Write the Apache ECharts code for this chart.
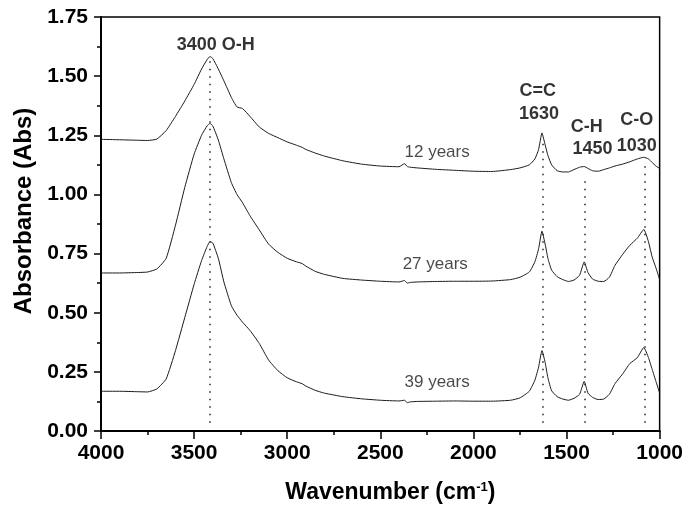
<!DOCTYPE html>
<html>
<head>
<meta charset="utf-8">
<script src="https://cdn.jsdelivr.net/npm/echarts@6/dist/echarts.min.js"></script>
<style>html,body{margin:0;padding:0;background:#fff;}#c{width:686px;height:509px;}</style>
</head>
<body>
<div id="c"></div>
<script>
const wavenumber = [4000,3900,3800,3750,3700,3650,3600,3550,3500,3460,3430,3415,3400,3370,3340,3300,3270,3240,3200,3150,3100,3050,3000,2950,2920,2900,2850,2800,2700,2600,2500,2400,2370,2355,2340,2300,2200,2100,2000,1900,1800,1750,1700,1670,1650,1632,1615,1600,1580,1550,1520,1490,1460,1430,1405,1385,1360,1330,1300,1270,1240,1200,1160,1120,1085,1060,1040,1020,1000];
const abs12 = [1.233,1.231,1.229,1.228,1.234,1.27,1.33,1.395,1.465,1.53,1.57,1.583,1.575,1.53,1.48,1.41,1.37,1.363,1.33,1.285,1.258,1.24,1.222,1.208,1.199,1.19,1.175,1.162,1.142,1.128,1.12,1.117,1.13,1.118,1.115,1.112,1.106,1.102,1.098,1.097,1.105,1.112,1.125,1.15,1.19,1.26,1.21,1.165,1.125,1.10,1.095,1.095,1.105,1.115,1.118,1.11,1.10,1.098,1.105,1.112,1.12,1.128,1.138,1.15,1.157,1.15,1.135,1.12,1.11];
const abs27 = [0.668,0.668,0.67,0.672,0.685,0.73,0.87,1.03,1.17,1.25,1.29,1.30,1.29,1.23,1.15,1.05,1.00,0.965,0.91,0.85,0.79,0.755,0.73,0.715,0.708,0.697,0.675,0.662,0.645,0.638,0.633,0.63,0.636,0.625,0.628,0.63,0.632,0.633,0.633,0.634,0.64,0.65,0.672,0.715,0.77,0.845,0.79,0.73,0.68,0.652,0.64,0.632,0.638,0.658,0.715,0.67,0.642,0.633,0.632,0.65,0.70,0.745,0.785,0.815,0.852,0.80,0.735,0.69,0.64];
const abs39 = [0.168,0.168,0.166,0.165,0.178,0.22,0.34,0.48,0.62,0.72,0.78,0.80,0.795,0.73,0.63,0.53,0.49,0.46,0.425,0.37,0.30,0.255,0.225,0.208,0.20,0.19,0.172,0.16,0.145,0.136,0.13,0.127,0.13,0.12,0.123,0.125,0.126,0.127,0.126,0.126,0.13,0.14,0.168,0.215,0.27,0.34,0.29,0.225,0.17,0.145,0.135,0.13,0.138,0.155,0.21,0.16,0.142,0.133,0.135,0.155,0.20,0.24,0.285,0.31,0.353,0.31,0.26,0.21,0.16];

const bandLabels = ['3400 O-H','C=C','1630','C-H','1450','C-O','1030'];
const bandLabelX = [3384,1654,1648,1391,1360,1123,1123];
const bandLabelY = [1.632,1.439,1.338,1.283,1.19,1.313,1.203];
const yearLabels = ['12 years','27 years','39 years'];
const yearLabelX = [2195,2205,2195];
const yearLabelY = [1.178,0.703,0.206];
const bandLineX = [3418,1629,1404,1080];
const bandLineTop = [1.57,1.24,1.08,1.127];
const bandLineBottom = 0.035;

const xTicks = [1000,1500,2000,2500,3000,3500,4000];
const yTicks = ['0.00','0.25','0.50','0.75','1.00','1.25','1.50','1.75'];

const FONT = 'Liberation Sans, Arial, sans-serif';
const chart = echarts.init(document.getElementById('c'));

function pairs(ys){ return wavenumber.map((w,i)=>[w, ys[i]]); }
const lineStyle = {color:'#1a1a1a', width:1};

const option = {
  animation:false,
  grid:{left:101,right:25,top:17,bottom:76,show:true,borderColor:'#000',borderWidth:1.5,backgroundColor:'transparent'},
  xAxis:{
    type:'value', min:1000, max:4000, interval:500, inverse:true,
    axisLine:{show:true,onZero:false,lineStyle:{color:'#000',width:2}},
    axisTick:{show:true,length:8,lineStyle:{color:'#000',width:1.5}},
    minorTick:{show:true,splitNumber:2,length:4,lineStyle:{color:'#000',width:1.5}},
    splitLine:{show:false},
    axisLabel:{color:'#000',fontFamily:FONT,fontWeight:'bold',fontSize:21,margin:12,
      formatter:v=> xTicks.indexOf(v)>=0 ? String(v) : ''},
    name:'{n|Wavenumber (cm}{s|-1}{n|)}',
    nameLocation:'middle', nameGap:50,
    nameTextStyle:{padding:[0,0,0,20],
      rich:{n:{fontFamily:FONT,fontWeight:'bold',fontSize:23,color:'#000'},
            s:{fontFamily:FONT,fontWeight:'bold',fontSize:13,color:'#000',padding:[0,0,10,0]}}}
  },
  yAxis:{
    type:'value', min:0, max:1.75, interval:0.25,
    axisLine:{show:true,onZero:false,lineStyle:{color:'#000',width:2}},
    axisTick:{show:true,length:7,lineStyle:{color:'#000',width:1.5}},
    minorTick:{show:true,splitNumber:2,length:4,lineStyle:{color:'#000',width:1.5}},
    splitLine:{show:false},
    axisLabel:{color:'#000',fontFamily:FONT,fontWeight:'bold',fontSize:21,margin:13,
      formatter:v=> yTicks[Math.round(v/0.25)]},
    name:'Absorbance (Abs)', nameLocation:'middle', nameGap:64,
    nameTextStyle:{color:'#000',fontFamily:FONT,fontWeight:'bold',fontSize:24,padding:[0,0,0,26]}
  },
  series:[
    {type:'line',data:pairs(abs12),showSymbol:false,lineStyle,silent:true,smooth:0.15,
      markLine:{silent:true,symbol:'none',label:{show:false},
        lineStyle:{color:'#222',width:1.5,type:[1.5,6]},
        data:bandLineX.map((x,i)=>[{coord:[x,bandLineBottom]},{coord:[x,bandLineTop[i]]}])}},
    {type:'line',data:pairs(abs27),showSymbol:false,lineStyle,silent:true,smooth:0.15},
    {type:'line',data:pairs(abs39),showSymbol:false,lineStyle,silent:true,smooth:0.15},
    {type:'scatter',silent:true,symbolSize:1,itemStyle:{color:'rgba(0,0,0,0)'},
      data:bandLabels.map((t,i)=>[bandLabelX[i],bandLabelY[i],t]),
      label:{show:true,position:'inside',formatter:p=>p.data[2],color:'#000',
        fontFamily:FONT,fontWeight:'bold',fontSize:18}},
    {type:'scatter',silent:true,symbolSize:1,itemStyle:{color:'rgba(0,0,0,0)'},
      data:yearLabels.map((t,i)=>[yearLabelX[i],yearLabelY[i],t]),
      label:{show:true,position:'inside',formatter:p=>p.data[2],color:'#1a1a1a',
        fontFamily:FONT,fontWeight:'normal',fontSize:17}}
  ]
};
chart.setOption(option);
</script>
</body>
</html>
